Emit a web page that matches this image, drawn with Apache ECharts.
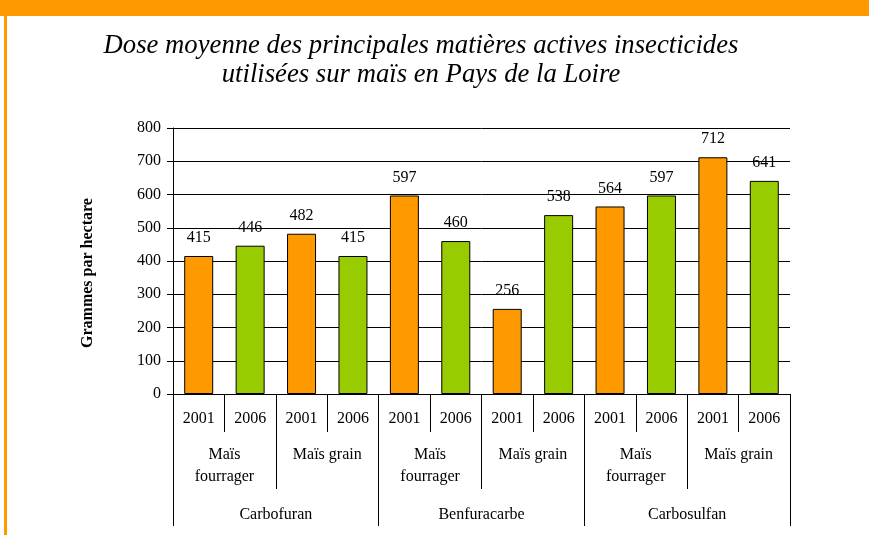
<!DOCTYPE html>
<html><head><meta charset="utf-8">
<script src="https://cdn.jsdelivr.net/npm/echarts@6/dist/echarts.min.js"></script>
<style>html,body{margin:0;padding:0;background:#fff}#c{width:869px;height:535px}</style>
</head><body><div id="c"></div>
<script>
var years = ['2001','2006','2001','2006','2001','2006','2001','2006','2001','2006','2001','2006'];
var maisTypes = ['Maïs\nfourrager','Maïs grain','Maïs\nfourrager','Maïs grain','Maïs\nfourrager','Maïs grain'];
var substances = ['Carbofuran','Benfuracarbe','Carbosulfan'];
var values2001 = [415, '-', 482, '-', 597, '-', 256, '-', 564, '-', 712, '-'];
var values2006 = ['-', 446, '-', 415, '-', 460, '-', 538, '-', 597, '-', 641];
var yTicks = [0,100,200,300,400,500,600,700,800];
var titleLines = ['Dose moyenne des principales matières actives insecticides','utilisées sur maïs en Pays de la Loire'];
var yName = 'Grammes par hectare';

var serif = '"Liberation Serif","Times New Roman",serif';
var chart = echarts.init(document.getElementById('c'), null, {renderer:'canvas'});
var lbl = {show:true, position:'top', distance:10, color:'#000', fontFamily:serif, fontSize:16};
chart.setOption({
  backgroundColor:'#fff',
  animation:false,
  title:{text:titleLines.join('\n'), left:416, textAlign:'center', top:26,
    textStyle:{fontFamily:serif, fontStyle:'italic', fontWeight:'normal', fontSize:26.7, lineHeight:29, color:'#000'}},
  graphic:[
    {type:'rect', shape:{x:0,y:0,width:869,height:16}, style:{fill:'#FF9900'}, silent:true},
    {type:'rect', shape:{x:4,y:0,width:3,height:535}, style:{fill:'#FF9900'}, silent:true}
  ],
  grid:{left:173, right:79, top:128, bottom:141},
  xAxis:[
    {type:'category', data:years, position:'bottom',
      axisLine:{show:true, lineStyle:{color:'#000', width:1}},
      axisTick:{show:true, interval:0, length:38, lineStyle:{color:'#000'}},
      axisLabel:{interval:0, margin:17, color:'#000', fontFamily:serif, fontSize:16}},
    {type:'category', data:maisTypes, position:'bottom',
      axisLine:{show:false},
      axisTick:{show:true, interval:0, length:95, lineStyle:{color:'#000'}},
      axisLabel:{interval:0, margin:50, color:'#000', fontFamily:serif, fontSize:16, lineHeight:22, verticalAlign:'top'}},
    {type:'category', data:substances, position:'bottom',
      axisLine:{show:false},
      axisTick:{show:true, interval:0, length:132, lineStyle:{color:'#000'}},
      axisLabel:{interval:0, margin:110, color:'#000', fontFamily:serif, fontSize:16, lineHeight:22, verticalAlign:'top'}}
  ],
  yAxis:{type:'value', min:yTicks[0], max:yTicks[yTicks.length-1], interval:100,
    name:yName, nameLocation:'middle', nameGap:77, nameRotate:90,
    nameTextStyle:{fontFamily:serif, fontWeight:'bold', fontSize:16, color:'#000', padding:[0,24,0,0]},
    axisLine:{show:true, lineStyle:{color:'#000'}},
    axisTick:{show:true, length:6, lineStyle:{color:'#000'}},
    axisLabel:{margin:12, color:'#000', fontFamily:serif, fontSize:16},
    splitLine:{show:true, lineStyle:{color:'#000', width:1}}},
  series:[
    {type:'bar', name:'2001', data:values2001, xAxisIndex:0, barWidth:29, barGap:'-100%',
      itemStyle:{color:'#FF9900', borderColor:'#000', borderWidth:1}, label:lbl},
    {type:'bar', name:'2006', data:values2006, xAxisIndex:0, barWidth:29, barGap:'-100%',
      itemStyle:{color:'#99CC00', borderColor:'#000', borderWidth:1}, label:lbl}
  ]
});
</script></body></html>
